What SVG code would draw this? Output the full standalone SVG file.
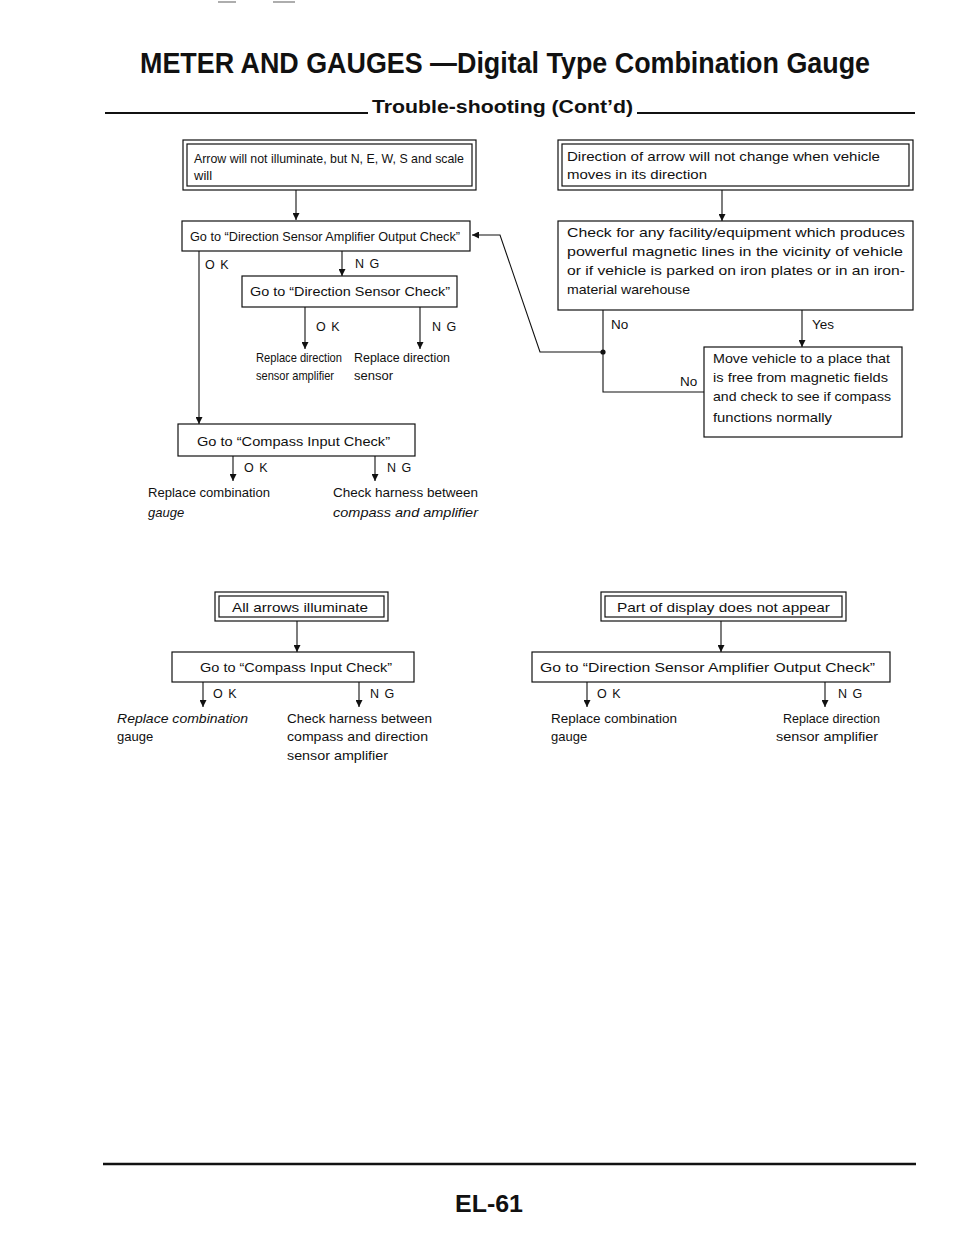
<svg xmlns="http://www.w3.org/2000/svg" width="960" height="1243" viewBox="0 0 960 1243">
<style>
text{font-family:"Liberation Sans",Arial,sans-serif;fill:#111}
.t{font-size:13px}
.r{font-size:13.5px}
.lb{font-size:12.5px;letter-spacing:1px}
.it{font-style:italic}
.box{fill:#fff;stroke:#111;stroke-width:1.2}
.ln{fill:none;stroke:#111;stroke-width:1.1}
.ar{fill:none;stroke:#111;stroke-width:1.1;marker-end:url(#ah)}
</style>
<defs>
<marker id="ah" viewBox="0 0 10 10" refX="10" refY="5" markerWidth="7" markerHeight="7" orient="auto" markerUnits="userSpaceOnUse"><path d="M0,0 L10,5 L0,10 z" fill="#111"/></marker>
</defs>
<rect width="960" height="1243" fill="#fff"/>
<line x1="218" y1="2" x2="236" y2="2" stroke="#777" stroke-width="1.2"/>
<line x1="273" y1="2" x2="295" y2="2" stroke="#777" stroke-width="1.2"/>
<g id="header">
<text x="140" y="73" font-size="29" font-weight="bold" textLength="730" lengthAdjust="spacingAndGlyphs">METER AND GAUGES —Digital Type Combination Gauge</text>
<text x="372" y="113" font-size="18" font-weight="bold" textLength="261" lengthAdjust="spacingAndGlyphs">Trouble-shooting (Cont’d)</text>
<line x1="105" y1="113" x2="368" y2="113" stroke="#111" stroke-width="2"/>
<line x1="637" y1="113" x2="915" y2="113" stroke="#111" stroke-width="2"/>
</g>
<g id="connectors">
<path class="ar" d="M296,190 L296,220"/>
<path class="ln" d="M199,251 L199,300"/>
<path class="ar" d="M199,300 L199,424"/>
<path class="ar" d="M342,251 L342,276"/>
<path class="ar" d="M305,307 L305,349"/>
<path class="ar" d="M420,307 L420,349"/>
<path class="ar" d="M233,456 L233,481"/>
<path class="ar" d="M375,456 L375,481"/>
<path class="ar" d="M722,190 L722,221"/>
<path class="ln" d="M603,310 L603,392 L704,392"/>
<path class="ar" d="M603,352 L540,352 L500,235 L472,235"/>
<circle cx="603" cy="352" r="2.6" fill="#111"/>
<path class="ar" d="M802,310 L802,347"/>
<path class="ar" d="M297,621 L297,652"/>
<path class="ar" d="M203,682 L203,707"/>
<path class="ar" d="M359,682 L359,707"/>
<path class="ar" d="M721,621 L721,652"/>
<path class="ar" d="M587,682 L587,707"/>
<path class="ar" d="M825,682 L825,707"/>
</g>
<g id="n_arrow_not_illuminate">
<rect class="box" x="183" y="140" width="293" height="50"/>
<rect class="box" x="187" y="144" width="285" height="42"/>
<text class="t" x="194" y="163" textLength="270" lengthAdjust="spacingAndGlyphs">Arrow will not illuminate, but N, E, W, S and scale</text>
<text class="t" x="194" y="180">will</text>
</g>
<g id="n_dsa_output_1">
<rect class="box" x="182" y="221" width="288" height="30"/>
<text class="t" x="190" y="241" textLength="270" lengthAdjust="spacingAndGlyphs">Go to “Direction Sensor Amplifier Output Check”</text>
</g>
<g id="l_ok_ng_1">
<text class="lb" x="205" y="269">O K</text>
<text class="lb" x="355" y="268">N G</text>
</g>
<g id="n_direction_sensor">
<rect class="box" x="242" y="276" width="215" height="31"/>
<text class="t" x="250" y="296" textLength="200" lengthAdjust="spacingAndGlyphs">Go to “Direction Sensor Check”</text>
<text class="lb" x="316" y="331">O K</text>
<text class="lb" x="432" y="331">N G</text>
</g>
<g id="n_replace_dsa_1">
<text class="t" x="256" y="362" textLength="86" lengthAdjust="spacingAndGlyphs">Replace direction</text>
<text class="t" x="256" y="380" textLength="78" lengthAdjust="spacingAndGlyphs">sensor amplifier</text>
</g>
<g id="n_replace_ds">
<text class="t" x="354" y="362" textLength="96" lengthAdjust="spacingAndGlyphs">Replace direction</text>
<text class="t" x="354" y="380">sensor</text>
</g>
<g id="n_compass_1">
<rect class="box" x="178" y="424" width="237" height="32"/>
<text class="t" x="197" y="446" textLength="193" lengthAdjust="spacingAndGlyphs">Go to “Compass Input Check”</text>
<text class="lb" x="244" y="472">O K</text>
<text class="lb" x="387" y="472">N G</text>
</g>
<g id="n_replace_comb_1">
<text class="t" x="148" y="497" textLength="122" lengthAdjust="spacingAndGlyphs">Replace combination</text>
<text class="t it" x="148" y="517">gauge</text>
</g>
<g id="n_check_harness_1">
<text class="t" x="333" y="497" textLength="145" lengthAdjust="spacingAndGlyphs">Check harness between</text>
<text class="t it" x="333" y="517" textLength="145" lengthAdjust="spacingAndGlyphs">compass and amplifier</text>
</g>
<g id="n_direction_not_change">
<rect class="box" x="558" y="140" width="355" height="50"/>
<rect class="box" x="562" y="144" width="347" height="42"/>
<text class="r" x="567" y="161" textLength="313" lengthAdjust="spacingAndGlyphs">Direction of arrow will not change when vehicle</text>
<text class="r" x="567" y="179" textLength="140" lengthAdjust="spacingAndGlyphs">moves in its direction</text>
</g>
<g id="n_check_facility">
<rect class="box" x="558" y="221" width="355" height="89"/>
<text class="r" x="567" y="237" textLength="338" lengthAdjust="spacingAndGlyphs">Check for any facility/equipment which produces</text>
<text class="r" x="567" y="256" textLength="336" lengthAdjust="spacingAndGlyphs">powerful magnetic lines in the vicinity of vehicle</text>
<text class="r" x="567" y="275" textLength="338" lengthAdjust="spacingAndGlyphs">or if vehicle is parked on iron plates or in an iron-</text>
<text class="r" x="567" y="294" textLength="123" lengthAdjust="spacingAndGlyphs">material warehouse</text>
<text class="r" x="611" y="329">No</text>
<text class="r" x="812" y="329">Yes</text>
</g>
<g id="n_move_vehicle">
<rect class="box" x="704" y="347" width="198" height="90"/>
<text class="r" x="713" y="363" textLength="177" lengthAdjust="spacingAndGlyphs">Move vehicle to a place that</text>
<text class="r" x="713" y="382" textLength="175" lengthAdjust="spacingAndGlyphs">is free from magnetic fields</text>
<text class="r" x="713" y="401" textLength="178" lengthAdjust="spacingAndGlyphs">and check to see if compass</text>
<text class="r" x="713" y="422" textLength="119" lengthAdjust="spacingAndGlyphs">functions normally</text>
<text class="r" x="680" y="386">No</text>
</g>
<g id="n_all_arrows">
<rect class="box" x="215" y="592" width="173" height="29"/>
<rect class="box" x="219" y="596" width="165" height="21"/>
<text class="r" x="232" y="612" textLength="136" lengthAdjust="spacingAndGlyphs">All arrows illuminate</text>
</g>
<g id="n_compass_2">
<rect class="box" x="172" y="652" width="242" height="30"/>
<text class="r" x="200" y="672" textLength="192" lengthAdjust="spacingAndGlyphs">Go to “Compass Input Check”</text>
<text class="lb" x="213" y="698">O K</text>
<text class="lb" x="370" y="698">N G</text>
</g>
<g id="n_replace_comb_2">
<text class="t it" x="117" y="723" textLength="131" lengthAdjust="spacingAndGlyphs">Replace combination</text>
<text class="t" x="117" y="741">gauge</text>
</g>
<g id="n_check_harness_2">
<text class="t" x="287" y="723" textLength="145" lengthAdjust="spacingAndGlyphs">Check harness between</text>
<text class="t" x="287" y="741" textLength="141" lengthAdjust="spacingAndGlyphs">compass and direction</text>
<text class="t" x="287" y="760" textLength="101" lengthAdjust="spacingAndGlyphs">sensor amplifier</text>
</g>
<g id="n_part_display">
<rect class="box" x="601" y="592" width="245" height="29"/>
<rect class="box" x="605" y="596" width="237" height="21"/>
<text class="r" x="617" y="612" textLength="213" lengthAdjust="spacingAndGlyphs">Part of display does not appear</text>
</g>
<g id="n_dsa_output_2">
<rect class="box" x="532" y="652" width="358" height="30"/>
<text class="r" x="540" y="672" textLength="335" lengthAdjust="spacingAndGlyphs">Go to “Direction Sensor Amplifier Output Check”</text>
<text class="lb" x="597" y="698">O K</text>
<text class="lb" x="838" y="698">N G</text>
</g>
<g id="n_replace_comb_3">
<text class="t" x="551" y="723" textLength="126" lengthAdjust="spacingAndGlyphs">Replace combination</text>
<text class="t" x="551" y="741">gauge</text>
</g>
<g id="n_replace_dsa_2">
<text class="t" x="783" y="723" textLength="97" lengthAdjust="spacingAndGlyphs">Replace direction</text>
<text class="t" x="776" y="741" textLength="102" lengthAdjust="spacingAndGlyphs">sensor amplifier</text>
</g>
<g id="footer">
<line x1="103" y1="1164" x2="916" y2="1164" stroke="#111" stroke-width="2.6"/>
<text x="455" y="1212" font-size="24" font-weight="bold" textLength="68" lengthAdjust="spacingAndGlyphs">EL-61</text>
</g>
</svg>
